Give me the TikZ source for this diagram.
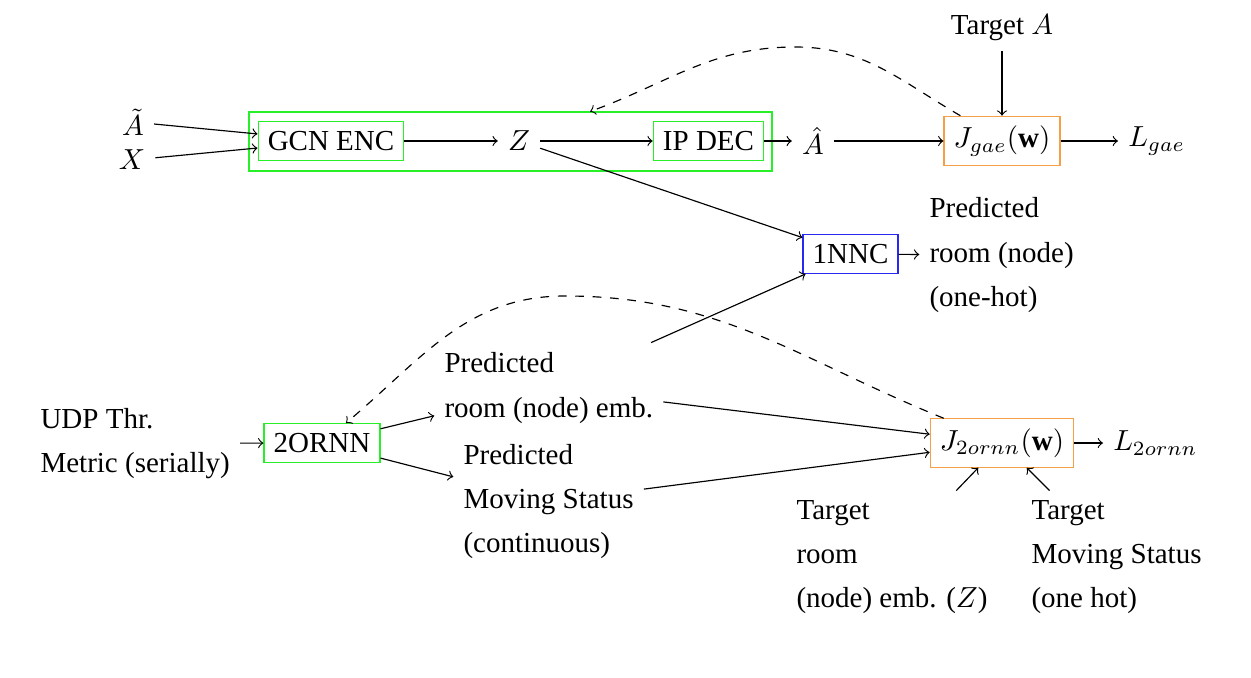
\documentclass[tikz,border=0pt]{standalone}
\usepackage{fontspec}
\setmainfont{Liberation Serif}
\usetikzlibrary{calc}
\definecolor{boxorange}{RGB}{245,160,70}
\definecolor{boxgreen}{RGB}{40,240,40}
\definecolor{boxblue}{RGB}{40,40,240}
\begin{document}
\begin{tikzpicture}[x=0.3448pt,y=-0.3448pt,>=to,
  font=\fontsize{10}{15.2}\selectfont,
  gbox/.style={draw=boxgreen},
  obox/.style={draw=boxorange},
  bbox/.style={draw=boxblue},
  txt/.style={align=left,anchor=north west}]
\useasboundingbox (0,0) rectangle (1251,678);

% top row
\node[draw=boxgreen,minimum width=180.3pt,minimum height=20.3pt,inner sep=0pt] (outer) at (510.5,141.5) {};
\node[inner ysep=1pt] (At) at (133,122) {$\tilde{A}$};
\node[inner ysep=1pt] (X) at (132,160) {$X$};
\node[gbox] (gcn) at (331,141) {GCN ENC};
\node (Z) at (519,141) {$Z$};
\node[gbox] (ipd) at (708.5,141) {IP DEC};
\node (Ah) at (813,141) {$\hat{A}$};
\node[obox] (J) at (1002,141) {$J_{gae}(\mathbf{w})$};
\node[anchor=west] (L) at (1118,141) {$L_{gae}$};
\node (TA) at (1002,28) {Target $A$};

% middle
\node[bbox] (NNC) at (850.5,254) {1NNC};
\node[txt] (pout) at (919.3,187.6) {Predicted\\room (node)\\(one-hot)};

% bottom
\node[txt] (udp) at (30.3,397.9) {UDP Thr.\\Metric (serially)};
\node[gbox] (ornn) at (322,443) {2ORNN};
\node[txt] (pre) at (434.3,342.6) {Predicted\\room (node) emb.};
\node[txt] (pms) at (453.3,433.9) {Predicted\\Moving Status\\(continuous)};
\node[obox] (J2) at (1002,443) {$J_{2ornn}(\mathbf{w})$};
\node[anchor=west] (L2) at (1103,443) {$L_{2ornn}$};
\node[txt] (tr) at (786.3,490.6) {Target\\room\\(node) emb. ($Z$)};
\node[txt] (tms) at (1021.3,490.6) {Target\\Moving Status\\(one hot)};

% connectors
\draw[->] (At) -- (gcn);
\draw[->] (X) -- (gcn);
\draw[->] (gcn) -- (Z);
\draw[->] (Z) -- (ipd);
\draw[->] (ipd) -- (Ah);
\draw[->] (Ah) -- (J);
\draw[->] (J) -- (L);
\draw[->] (TA) -- (J);
\draw[->] (Z) -- (NNC);
\draw[->] (NNC) -- (pout);
\draw[->] (pre) -- (NNC);
\draw[->] (udp) -- (ornn);
\draw[->] (ornn) -- (pre);
\draw[->] (ornn) -- (pms);
\draw[->] (pre) -- (J2);
\draw[->] (pms) -- (J2);
\draw[->] (J2) -- (L2);
\draw[->] (tr) -- (J2);
\draw[->] (tms) -- (J2);

% dashed feedback curves
\coordinate (c1s) at ($(J.north west)+(17,0)$);
\coordinate (pk1) at (795,47);
\coordinate (c1e) at ($(outer.north west)!0.652!(outer.north east)$);
\draw[->,dashed] (c1s) to[out=150,in=0] (pk1) to[out=180,in=20] (c1e);

\coordinate (c2s) at ($(J2.north west)+(14,0)$);
\coordinate (pk2) at (565,296);
\coordinate (c2e) at ($(ornn.north)+(24,0)$);
\draw[->,dashed] (c2s) to[out=158,in=0] (pk2) to[out=180,in=40] (c2e);
\end{tikzpicture}
\end{document}
